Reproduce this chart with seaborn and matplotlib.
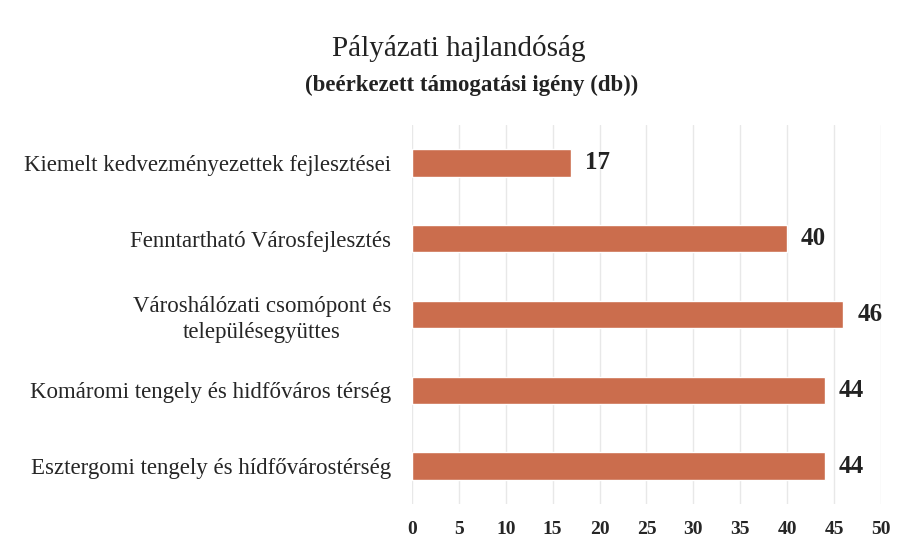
import matplotlib
matplotlib.use('Agg')
import matplotlib.pyplot as plt
import pandas as pd
import seaborn as sns

# =============================================================================
# Data
# =============================================================================
categories = [
    'Kiemelt kedvezményezettek fejlesztései',
    'Fenntartható Városfejlesztés',
    'Városhálózati csomópont és\ntelepülésegyüttes',
    'Komáromi tengely és hidfőváros térség',
    'Esztergomi tengely és hídfővárostérség',
]
values = [17, 40, 46, 44, 44]
x_ticks = [0, 5, 10, 15, 20, 25, 30, 35, 40, 45, 50]

df = pd.DataFrame({'Kategoria': categories, 'Igeny': values})

# =============================================================================
# Plotting
# =============================================================================
sns.set_style('white')
plt.rcParams['font.family'] = ['Liberation Serif', 'DejaVu Serif']

fig = plt.figure(figsize=(9.09, 5.53), dpi=100)
ax = fig.add_axes([0.4532, 0.0886, 0.516, 0.6854])

sns.barplot(data=df, x='Igeny', y='Kategoria', color='#CB6D4D',
            width=0.36, saturation=1, ax=ax)

ax.bar_label(ax.containers[0], padding=10, fontsize=18, fontweight='bold',
             color='#222222')

ax.set_xlim(0, 50)
ax.set_xticks(x_ticks)
ax.set_xticklabels([str(t) for t in x_ticks], fontsize=14, fontweight='bold')
ax.tick_params(axis='y', labelsize=16.5, length=0, pad=15)
ax.tick_params(axis='x', length=0, pad=12)
for lbl in ax.get_yticklabels():
    lbl.set_multialignment('center')
    lbl.set_linespacing(1.3)
ax.set_xlabel('')
ax.set_ylabel('')
ax.grid(True, axis='x', color='#E8E8E8', linewidth=1)
ax.set_axisbelow(True)
sns.despine(ax=ax, left=True, bottom=True)

fig.text(0.505, 0.912, 'Pályázati hajlandóság', ha='center', va='center',
         fontsize=21, color='#222222')
fig.text(0.519, 0.845, '(beérkezett támogatási igény (db))', ha='center',
         va='center', fontsize=16.5, fontweight='bold', color='#222222')

fig.savefig('out.png', dpi=100)
